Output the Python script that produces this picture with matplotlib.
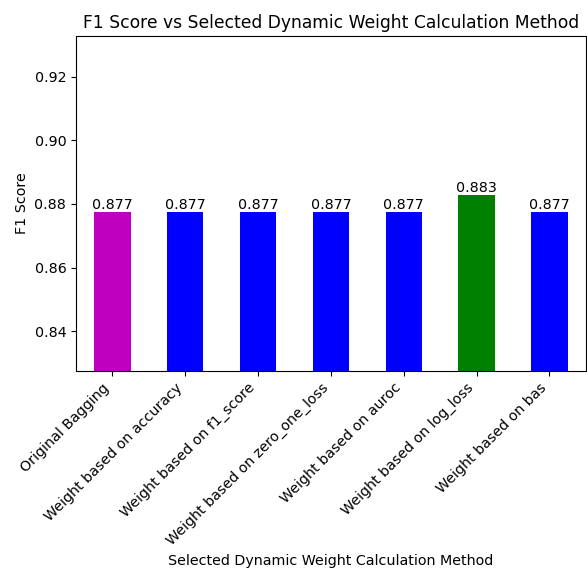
import matplotlib
matplotlib.use("Agg")
import matplotlib.pyplot as plt
import numpy as np

methods = ["Original Bagging", "Weight based on accuracy", "Weight based on f1_score",
           "Weight based on zero_one_loss", "Weight based on auroc",
           "Weight based on log_loss", "Weight based on bas"]
f1_scores = [0.8775, 0.8775, 0.8775, 0.8775, 0.8775, 0.8828, 0.8775]
bar_colors = ["m", "b", "b", "b", "b", "g", "b"]

plt.rcParams["font.size"] = 10.3

fig = plt.figure(figsize=(5.87, 5.72), dpi=100)
ax = fig.add_axes([0.1295, 0.3514, 0.8685, 0.5856])

x = np.arange(len(methods))
bars = ax.bar(x, f1_scores, width=0.5, color=bar_colors)
for b, v in zip(bars, f1_scores):
    ax.text(b.get_x() + b.get_width() / 2, v, f"{v:.3f}", ha="center", va="bottom", fontsize=10.3)

ax.set_ylim(min(f1_scores) - 0.05, max(f1_scores) + 0.05)
ax.set_xlim(-0.5, len(methods) - 0.5)
ax.set_xticks(x)
ax.set_xticklabels(methods, rotation=45, ha="right")
ax.set_title("F1 Score vs Selected Dynamic Weight Calculation Method", fontsize=12.3)
ax.set_xlabel("Selected Dynamic Weight Calculation Method")
ax.set_ylabel("F1 Score")

fig.savefig("out.png", dpi=100)
